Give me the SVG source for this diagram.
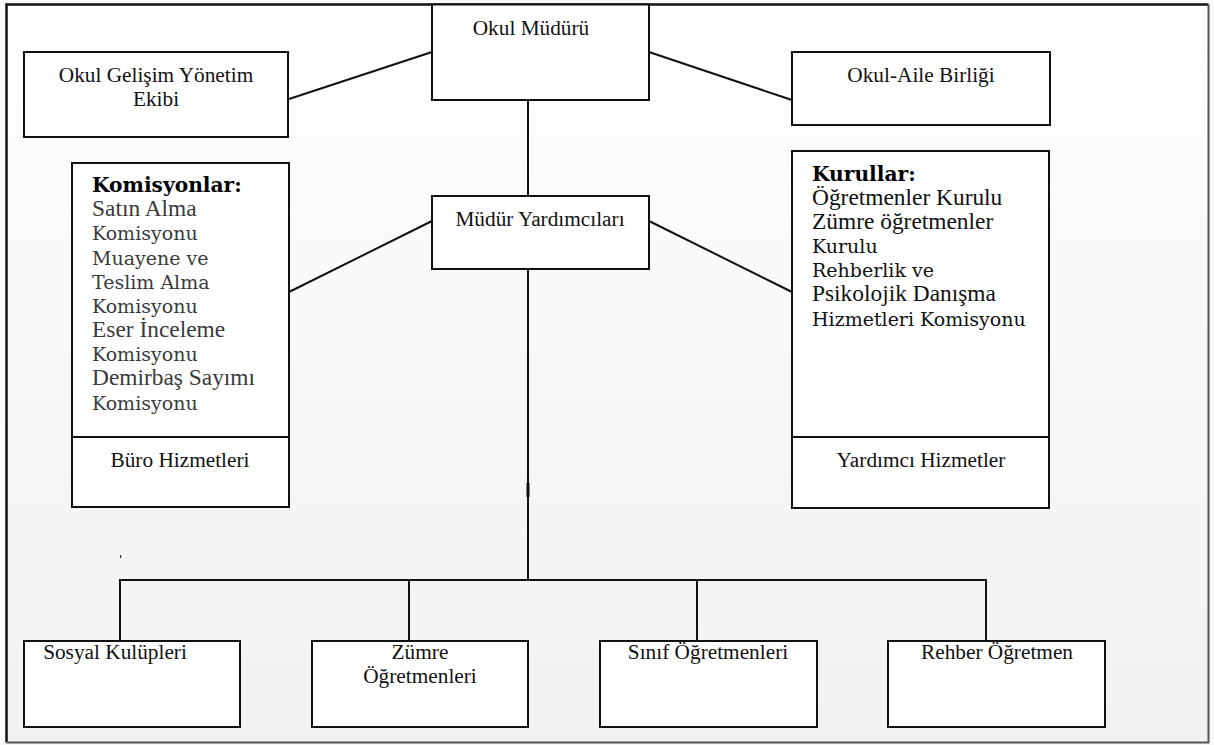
<svg xmlns="http://www.w3.org/2000/svg" width="1214" height="745" viewBox="0 0 1214 745">
  <defs>
    <linearGradient id="bg" x1="0" y1="0" x2="0" y2="1">
      <stop offset="0" stop-color="#ffffff"/>
      <stop offset="1" stop-color="#f1f1f1"/>
    </linearGradient>
    <style>
      .box { fill: #ffffff; stroke: #111; stroke-width: 2; }
      .conn { stroke: #111; stroke-width: 2; fill: none; }
      .t { font-family: "Liberation Serif", "Times New Roman", serif; font-size: 21.3px; fill: #111; }
      .c { text-anchor: middle; }
      .tm { font-family: "Liberation Serif", "Times New Roman", serif; font-size: 23.4px; }
      .g { font-family: "DejaVu Serif", Georgia, serif; font-size: 19px; }
      .gb { font-family: "DejaVu Serif", Georgia, serif; font-size: 20.2px; font-weight: bold; fill: #000; }
      .gray { fill: #3a3a3a; }
      .dark { fill: #111; }
    </style>
  </defs>

  <rect x="0" y="0" width="1214" height="745" fill="#fafafa"/>
  <rect x="6.5" y="4.5" width="1202" height="738" fill="url(#bg)"/>
  <path d="M6.5 742.5 V4.5 H1208.5" fill="none" stroke="#111" stroke-width="2.5"/>
  <path d="M1208.5 4.5 V742.5 H6.5" fill="none" stroke="#555" stroke-width="2"/>

  <g id="connectors">
    <line class="conn" x1="432" y1="52" x2="289" y2="99"/>
    <line class="conn" x1="649" y1="52" x2="792" y2="100"/>
    <line class="conn" x1="528" y1="100" x2="528" y2="196"/>
    <line class="conn" x1="432" y1="221" x2="289" y2="292"/>
    <line class="conn" x1="649" y1="221" x2="792" y2="292"/>
    <line class="conn" x1="528" y1="269" x2="528" y2="580"/>
    <rect x="526.5" y="483" width="3" height="14" fill="#111"/>
    <path class="conn" d="M120 641 V580 H986 V641"/>
    <line class="conn" x1="409" y1="580" x2="409" y2="641"/>
    <line class="conn" x1="697" y1="580" x2="697" y2="641"/>
    <rect x="120" y="555" width="1.2" height="3" fill="#333"/>
  </g>

  <g id="okul-muduru">
    <rect class="box" x="432" y="4.5" width="217" height="95.5"/>
    <text class="t c" x="531" y="35">Okul Müdürü</text>
  </g>

  <g id="okul-gelisim">
    <rect class="box" x="24" y="52" width="264" height="85"/>
    <text class="t c" x="156" y="82">Okul Gelişim Yönetim</text>
    <text class="t c" x="156" y="106">Ekibi</text>
  </g>

  <g id="okul-aile">
    <rect class="box" x="792" y="52" width="258" height="73"/>
    <text class="t c" x="921" y="82">Okul-Aile Birliği</text>
  </g>

  <g id="mudur-yardimcilari">
    <rect class="box" x="432" y="196" width="217" height="73"/>
    <text class="t c" x="540" y="226">Müdür Yardımcıları</text>
  </g>

  <g id="komisyonlar">
    <rect class="box" x="72" y="163" width="217" height="344"/>
    <line class="conn" x1="72" y1="437" x2="289" y2="437"/>
    <text class="gb" x="92" y="192">Komisyonlar:</text>
    <text class="tm gray" x="92" y="216">Satın Alma</text>
    <text class="g gray" x="92" y="240">Komisyonu</text>
    <text class="g gray" x="92" y="265">Muayene ve</text>
    <text class="g gray" x="92" y="289">Teslim Alma</text>
    <text class="g gray" x="92" y="313">Komisyonu</text>
    <text class="tm gray" x="92" y="337">Eser İnceleme</text>
    <text class="g gray" x="92" y="361">Komisyonu</text>
    <text class="tm gray" x="92" y="385">Demirbaş Sayımı</text>
    <text class="g gray" x="92" y="410">Komisyonu</text>
    <text class="t c" x="180" y="467">Büro Hizmetleri</text>
  </g>

  <g id="kurullar">
    <rect class="box" x="792" y="151" width="257" height="357"/>
    <line class="conn" x1="792" y1="437" x2="1049" y2="437"/>
    <text class="gb" x="812" y="181">Kurullar:</text>
    <text class="tm dark" x="812" y="205">Öğretmenler Kurulu</text>
    <text class="tm dark" x="812" y="229">Zümre öğretmenler</text>
    <text class="g dark" x="812" y="253">Kurulu</text>
    <text class="g dark" x="812" y="277">Rehberlik ve</text>
    <text class="tm dark" x="812" y="301">Psikolojik Danışma</text>
    <text class="g dark" x="812" y="326">Hizmetleri Komisyonu</text>
    <text class="t c" x="921" y="467">Yardımcı Hizmetler</text>
  </g>

  <g id="sosyal-kulupleri">
    <rect class="box" x="24" y="641" width="216" height="86"/>
    <text class="t c" x="115" y="659">Sosyal Kulüpleri</text>
  </g>

  <g id="zumre-ogretmenleri">
    <rect class="box" x="312" y="641" width="216" height="86"/>
    <text class="t c" x="420" y="659">Zümre</text>
    <text class="t c" x="420" y="683">Öğretmenleri</text>
  </g>

  <g id="sinif-ogretmenleri">
    <rect class="box" x="600" y="641" width="217" height="86"/>
    <text class="t c" x="708" y="659">Sınıf Öğretmenleri</text>
  </g>

  <g id="rehber-ogretmen">
    <rect class="box" x="888" y="641" width="217" height="86"/>
    <text class="t c" x="997" y="659">Rehber Öğretmen</text>
  </g>
</svg>
